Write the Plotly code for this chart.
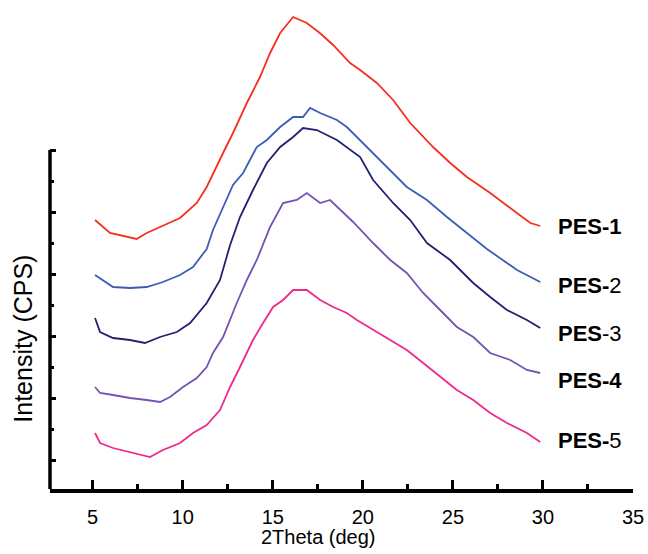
import plotly.graph_objects as go

# 2Theta (deg) and intensity (arbitrary)
pes1_x = [5.13, 5.96, 7.44, 8.0, 8.74, 9.85, 10.78, 11.33, 12.24, 12.79, 13.56, 14.29, 14.85, 15.41, 16.13,
          16.89, 17.61, 18.35, 19.29, 19.85, 20.78, 21.68, 22.63, 23.9, 24.85, 25.78, 27.07, 28.35, 29.3, 29.85]
pes1_y = [269, 256, 250, 256, 262, 271, 286, 302, 336, 356, 386, 412, 436, 456, 472,
          466, 456, 444, 426, 419, 406, 389, 366, 342, 326, 312, 296, 279, 266, 263]

pes2_x = [5.13, 6.13, 7.07, 8.0, 8.9, 9.85, 10.57, 11.33, 11.68, 12.24, 12.79, 13.35, 14.11, 14.67, 15.41,
          16.13, 16.68, 17.07, 17.63, 18.56, 19.11, 20.22, 21.13, 22.44, 23.56, 24.67, 25.78, 26.89, 28.56, 29.85]
pes2_y = [214, 202, 201, 202, 207, 214, 222, 240, 259, 282, 304, 316, 342, 349, 362,
          372, 372, 381, 376, 369, 362, 342, 326, 302, 289, 272, 256, 240, 219, 207]

pes3_x = [5.13, 5.41, 6.13, 7.07, 7.9, 8.74, 9.67, 10.41, 11.33, 12.07, 12.63, 13.18, 13.9, 14.67, 15.41,
          16.13, 16.68, 17.44, 18.56, 19.85, 20.57, 21.68, 22.63, 23.56, 24.85, 26.13, 27.07, 28.0, 29.11, 29.85]
pes3_y = [171, 157, 151, 149, 146, 152, 157, 166, 186, 209, 244, 272, 299, 326, 342,
          352, 361, 359, 349, 332, 309, 286, 269, 246, 229, 206, 192, 179, 169, 161]

pes4_x = [5.13, 5.41, 6.13, 7.07, 8.0, 8.74, 9.29, 10.02, 10.78, 11.33, 11.68, 12.24, 13.0, 13.56, 14.11, 14.85, 15.57,
          16.33, 16.89, 17.63, 18.18, 18.74, 19.46, 20.57, 21.52, 22.44, 23.35, 24.29, 25.22, 26.13, 27.07, 28.18, 29.11, 29.85]
pes4_y = [102, 96, 94, 91, 89, 87, 92, 102, 111, 122, 136, 152, 186, 209, 229, 262, 286,
          289, 296, 286, 289, 279, 267, 246, 229, 216, 196, 179, 162, 152, 136, 129, 119, 116]

pes5_x = [5.13, 5.41, 6.13, 7.07, 8.18, 8.9, 9.85, 10.57, 11.33, 12.07, 12.63, 13.18, 13.9, 14.46, 15.02, 15.57,
          16.13, 16.89, 17.63, 18.35, 19.11, 19.67, 20.57, 21.52, 22.44, 23.35, 24.29, 25.22, 26.13, 27.07, 28.0, 29.11, 29.85]
pes5_y = [56, 46, 41, 37, 32, 39, 46, 56, 64, 79, 102, 122, 149, 166, 182, 189,
          199, 199, 189, 182, 176, 169, 159, 149, 139, 126, 112, 99, 89, 76, 66, 56, 47]

names = ["PES-1", "PES-2", "PES-3", "PES-4", "PES-5"]
label_text = ["<b>PES-1</b>", "<b>PES-</b>2", "<b>PES</b>-3", "<b>PES-4</b>", "<b>PES-</b>5"]
label_y = [263, 204, 156, 109, 49]
colors = ["#f4301f", "#3d5cb6", "#22216f", "#7553b1", "#ee2a8a"]

x_ticks = [5, 10, 15, 20, 25, 30, 35]
x_minor = [7.5, 12.5, 17.5, 22.5, 27.5, 32.5]
y_major = [29, 91, 153, 215, 277, 339]
y_minor = [60, 122, 184, 246, 308]

series = [(pes1_x, pes1_y), (pes2_x, pes2_y), (pes3_x, pes3_y), (pes4_x, pes4_y), (pes5_x, pes5_y)]
FONT = "Arial, Liberation Sans, sans-serif"

fig = go.Figure()
for (xs, ys), name, c in zip(series, names, colors):
    fig.add_trace(go.Scatter(x=xs, y=ys, mode="lines", name=name,
                             line=dict(color=c, width=1.8), showlegend=False))

for t, yv in zip(label_text, label_y):
    fig.add_annotation(x=30.75, y=yv, xref="x", yref="y", text=t, showarrow=False,
                       xanchor="left", yanchor="middle",
                       font=dict(family=FONT, size=22, color="black"))

fig.add_annotation(x=-0.047, y=0.313, xref="paper", yref="paper", text="Intensity (CPS)",
                   textangle=-90, showarrow=False, xanchor="center", yanchor="middle",
                   font=dict(family=FONT, size=25, color="black"))
fig.add_annotation(x=0.461, y=-0.1, xref="paper", yref="paper", text="2Theta (deg)",
                   showarrow=False, xanchor="center", yanchor="middle",
                   font=dict(family=FONT, size=20, color="black"))

# visible part of the y axis line
fig.add_shape(type="line", xref="paper", yref="y", x0=0, x1=0, y0=-3, y1=y_major[-1],
              line=dict(color="black", width=3.5))

fig.update_layout(
    template="none",
    width=648, height=554,
    margin=dict(l=50, r=15, t=10, b=65, autoexpand=False),
    plot_bgcolor="white", paper_bgcolor="white",
    xaxis=dict(range=[2.63, 35], showgrid=False, zeroline=False, automargin=False,
               showline=True, linecolor="black", linewidth=3.5,
               ticks="inside", tickmode="array", tickvals=x_ticks,
               ticklen=9, tickwidth=3, tickcolor="black",
               minor=dict(tickmode="array", tickvals=x_minor, ticks="inside",
                          ticklen=5, tickwidth=3, tickcolor="black"),
               tickfont=dict(family=FONT, size=20, color="black"),
               ticklabelstandoff=7),
    yaxis=dict(range=[0, 479], showgrid=False, zeroline=False, showline=False, automargin=False,
               ticks="inside", tickmode="array", tickvals=y_major,
               ticklen=6, tickwidth=3, tickcolor="black", showticklabels=False,
               minor=dict(tickmode="array", tickvals=y_minor, ticks="inside",
                          ticklen=4, tickwidth=3, tickcolor="black")),
)

fig.write_html("out.html", config={"displayModeBar": False},
               post_script="document.body.style.margin='0';")
